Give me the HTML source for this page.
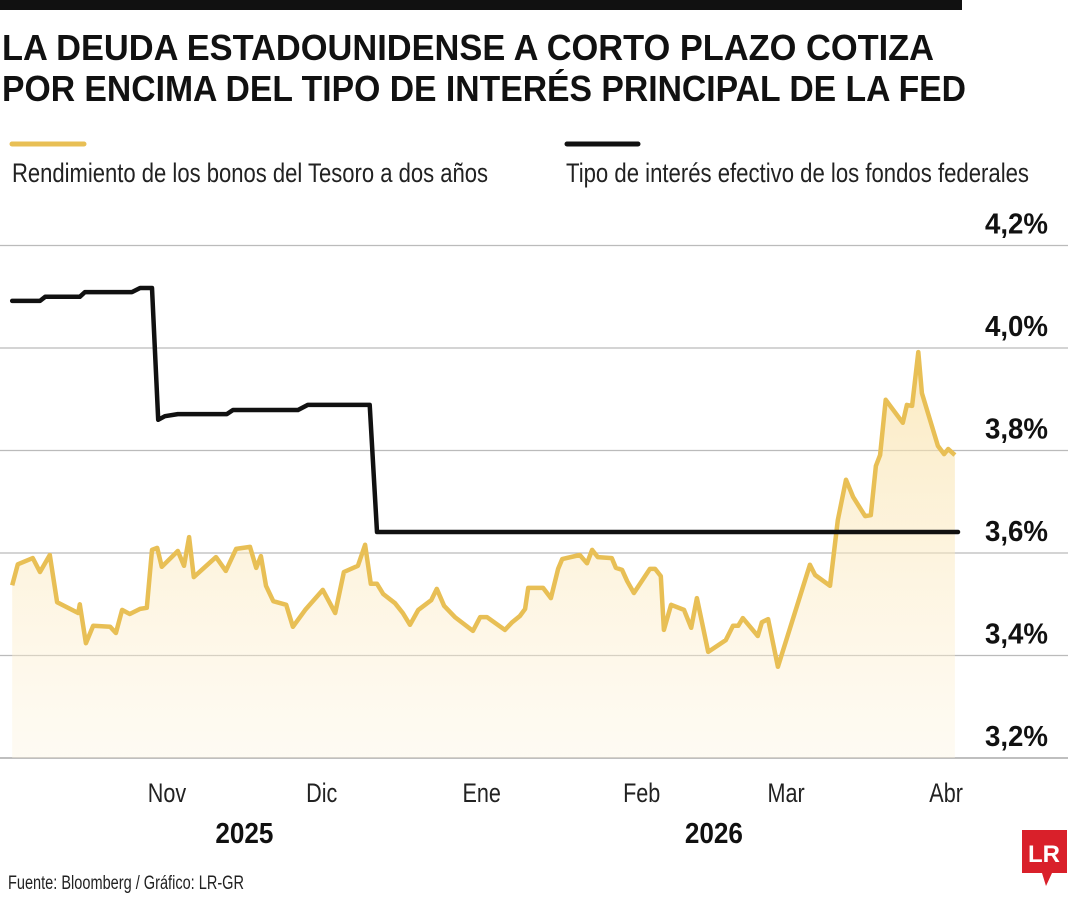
<!DOCTYPE html>
<html><head><meta charset="utf-8"><style>
body{margin:0;background:#fff;width:1080px;height:900px;overflow:hidden;font-family:"Liberation Sans Narrow","Liberation Sans",sans-serif;}
svg text{font-family:"Liberation Sans Narrow","Liberation Sans",sans-serif;}
</style></head><body>
<svg width="1080" height="900" viewBox="0 0 1080 900">
<defs><linearGradient id="g" x1="0" y1="0" x2="0" y2="1"><stop offset="0" stop-color="#f9dfa0" stop-opacity="0.65"/><stop offset="1" stop-color="#fdf3dc" stop-opacity="0.35"/></linearGradient></defs>
<rect x="0" y="0" width="962" height="10" fill="#111"/>
<text x="2" y="60" font-size="36" font-weight="bold" fill="#111" textLength="932" lengthAdjust="spacingAndGlyphs">LA DEUDA ESTADOUNIDENSE A CORTO PLAZO COTIZA</text>
<text x="2" y="101" font-size="36" font-weight="bold" fill="#111" textLength="964" lengthAdjust="spacingAndGlyphs">POR ENCIMA DEL TIPO DE INTERÉS PRINCIPAL DE LA FED</text>
<g>
<line x1="12" y1="144" x2="84" y2="144" stroke="#e8bf55" stroke-width="5" stroke-linecap="round"/>
<text x="12" y="182" font-size="27" fill="#222" textLength="476" lengthAdjust="spacingAndGlyphs">Rendimiento de los bonos del Tesoro a dos años</text></g>
<g>
<line x1="567" y1="144" x2="638" y2="144" stroke="#111" stroke-width="5" stroke-linecap="round"/>
<text x="566" y="182" font-size="27" fill="#222" textLength="463" lengthAdjust="spacingAndGlyphs">Tipo de interés efectivo de los fondos federales</text></g>
<g id="grid"></g><g id="plot"></g><g id="axes"></g>
<text x="8" y="889" font-size="19" fill="#222" textLength="236" lengthAdjust="spacingAndGlyphs">Fuente: Bloomberg / Gráfico: LR-GR</text>
<g>
<path d="M1022 830 H1067 V873 H1052 L1046 886 L1042 873 H1022 Z" fill="#d9202a"/>
<text x="1044" y="862" font-size="24" font-weight="bold" fill="#fff" text-anchor="middle" font-family="Liberation Serif,serif">LR</text></g>
</svg>
<script>
const treasuryDays=[1.0,2.1,5.0,6.4,8.3,9.7,13.8,14.1,15.3,16.7,20.0,21.1,22.3,23.8,25.8,27.1,28.1,29.1,30.0,33.1,34.3,35.3,36.2,40.5,42.4,44.4,47.1,48.3,49.2,50.2,51.6,54.1,55.4,57.8,61.2,63.6,65.3,68.0,69.4,70.5,71.7,72.9,75.2,76.7,78.1,79.7,82.2,83.3,84.7,86.8,90.3,91.7,93.0,96.5,97.9,99.4,100.4,101.0,103.9,105.4,106.8,107.6,111.0,112.4,113.4,114.5,117.2,118.0,119.2,120.2,121.5,124.6,125.6,126.7,127.3,128.7,131.2,132.6,133.7,135.9,139.3,140.7,141.7,142.6,145.5,146.3,147.5,149.4,155.6,156.6,159.5,161.0,162.6,164.0,166.3,167.4,168.4,169.2,170.3,173.6,174.4,175.4,176.6,177.3,180.4,181.6,182.4,183.7];
const treasuryValues=[3.537,3.578,3.590,3.563,3.596,3.504,3.483,3.5,3.424,3.458,3.456,3.444,3.489,3.481,3.491,3.493,3.606,3.610,3.573,3.604,3.575,3.631,3.553,3.592,3.565,3.608,3.612,3.571,3.594,3.536,3.506,3.499,3.456,3.489,3.528,3.483,3.563,3.575,3.616,3.540,3.540,3.520,3.502,3.483,3.460,3.489,3.508,3.530,3.497,3.475,3.448,3.475,3.475,3.450,3.465,3.477,3.491,3.532,3.532,3.512,3.569,3.588,3.596,3.580,3.606,3.592,3.590,3.571,3.567,3.545,3.522,3.569,3.569,3.555,3.450,3.499,3.489,3.454,3.512,3.407,3.430,3.458,3.458,3.473,3.438,3.465,3.471,3.378,3.577,3.557,3.536,3.664,3.743,3.709,3.672,3.674,3.770,3.791,3.899,3.854,3.889,3.887,3.992,3.912,3.809,3.793,3.803,3.791];
const fedDays=[1.0,6.4,7.4,14.1,15.1,24.2,25.8,28.1,29.3,30.6,33.1,42.6,43.8,56.4,58.3,70.3,71.7,184.3];
const fedValues=[4.092,4.092,4.100,4.100,4.109,4.109,4.117,4.117,3.860,3.867,3.871,3.871,3.879,3.879,3.889,3.889,3.641,3.641];
const yTicks=[4.2,4.0,3.8,3.6,3.4,3.2];
const yTickLabels=["4,2%","4,0%","3,8%","3,6%","3,4%","3,2%"];
const monthDays=[31,61,92,123,151,182];
const monthLabels=["Nov","Dic","Ene","Feb","Mar","Abr"];
const yearLabels=["2025","2026"];
const yearDays=[46,137];
const NS="http://www.w3.org/2000/svg";
const x=d=>7+d*5.16;
const y=v=>553-(v-3.6)*512.5;
function mk(t,a,p){const e=document.createElementNS(NS,t);for(const k in a)e.setAttribute(k,a[k]);document.getElementById(p).appendChild(e);return e;}
yTicks.forEach((v,i)=>{
 const l=mk('line',{x1:0,x2:1068,y1:y(v),y2:y(v),stroke:i==yTicks.length-1?'#999':'#bbb','stroke-width':1.2},'grid');
 
 
 const t=mk('text',{x:1048,y:y(v)-12,'font-size':29,'font-weight':'bold','text-anchor':'end',fill:'#111',textLength:63,lengthAdjust:'spacingAndGlyphs'},'axes');
 t.textContent=yTickLabels[i];
 
 
});
monthDays.forEach((d,i)=>{
 const t=mk('text',{x:x(d),y:802,'font-size':27,'text-anchor':'middle',fill:'#222',transform:'translate('+x(d)+',0) scale(0.8,1) translate('+(-x(d))+',0)'},'axes');
 t.textContent=monthLabels[i];
 
 
});
yearDays.forEach((d,i)=>{
 const t=mk('text',{x:x(d),y:843,'font-size':29,'font-weight':'bold','text-anchor':'middle',fill:'#111',transform:'translate('+x(d)+',0) scale(0.9,1) translate('+(-x(d))+',0)'},'axes');
 t.textContent=yearLabels[i];
 
 
});
const tp=treasuryDays.map((d,i)=>x(d).toFixed(1)+','+y(treasuryValues[i]).toFixed(1));
const area=mk('path',{d:'M'+x(treasuryDays[0])+','+y(3.2)+' L'+tp.join(' L')+' L'+x(treasuryDays[treasuryDays.length-1])+','+y(3.2)+'Z',fill:'url(#g)'},'plot');


const tl=mk('polyline',{points:tp.join(' '),fill:'none',stroke:'#e8bf55','stroke-width':4.5,'stroke-linejoin':'round'},'plot');


const fl=mk('polyline',{points:fedDays.map((d,i)=>x(d).toFixed(1)+','+y(fedValues[i]).toFixed(1)).join(' '),fill:'none',stroke:'#111','stroke-width':4.5,'stroke-linejoin':'round','stroke-linecap':'round'},'plot');


</script>
</body></html>
